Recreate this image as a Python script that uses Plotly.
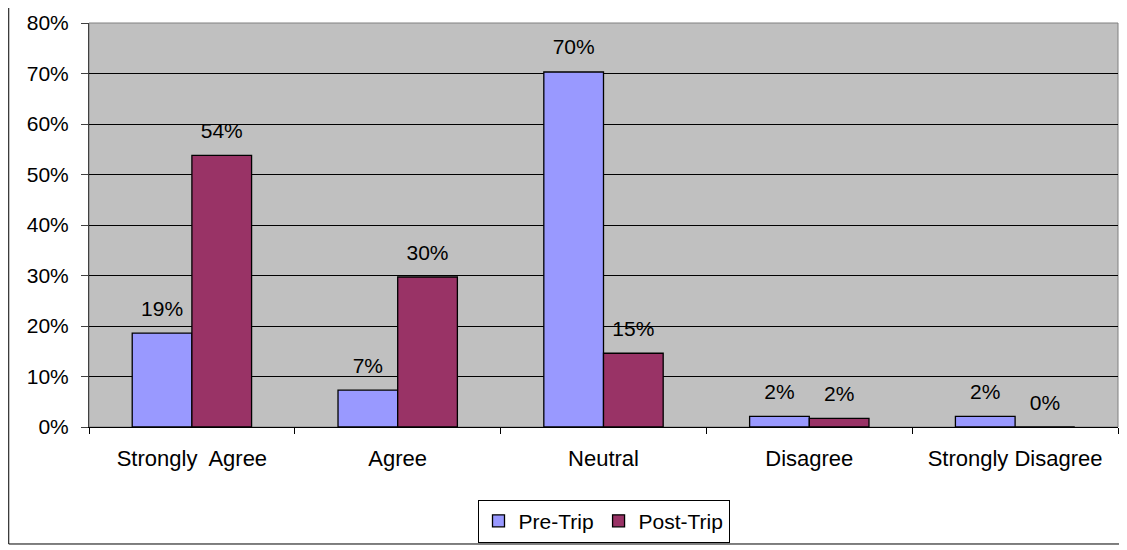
import plotly.graph_objects as go

categories = ["Strongly\u00a0 Agree", "Agree", "Neutral", "Disagree", "Strongly Disagree"]
pre_trip = [0.186, 0.073, 0.703, 0.021, 0.021]
post_trip = [0.538, 0.297, 0.146, 0.017, 0.0]

FONT = dict(family="Liberation Sans, Arial, sans-serif", size=21, color="black")

fig = go.Figure()
for name, vals, color in [("Pre-Trip", pre_trip, "#9999FF"), ("Post-Trip", post_trip, "#993366")]:
    fig.add_trace(go.Bar(name=name, x=categories, y=vals, offsetgroup=name,
                         marker=dict(color=color, line=dict(color="black", width=1.3))))
    # data labels, lifted a bit above the bar like Excel does
    fig.add_trace(go.Scatter(x=categories, y=vals, offsetgroup=name, mode="markers+text",
                             texttemplate="%{y:.0%}", textposition="top center",
                             marker=dict(size=18, opacity=0), textfont=FONT,
                             cliponaxis=False, showlegend=False, hoverinfo="skip"))

# page body has an 8px margin, so the figure is shrunk by that much
fig.update_layout(
    width=1119, height=542,
    margin=dict(l=81, r=9, t=15, b=123, autoexpand=False),
    paper_bgcolor="white", plot_bgcolor="#C0C0C0",
    font=FONT,
    barmode="group", bargap=0.42, bargroupgap=0,
    scattermode="group", scattergap=0.42,
    showlegend=True,
    legend=dict(orientation="h", x=0.5, xanchor="center", y=-0.18, yanchor="top",
                bordercolor="black", borderwidth=1, font=FONT,
                itemwidth=30, tracegroupgap=0),
    xaxis=dict(showgrid=False, showline=True, linecolor="black", linewidth=1,
               ticks="outside", tickson="boundaries", ticklen=6, tickcolor="black",
               ticklabelstandoff=12, automargin=False, tickfont=dict(size=22)),
    yaxis=dict(range=[0, 0.8], dtick=0.1, tickformat=".0%",
               showgrid=True, gridcolor="black", gridwidth=1,
               showline=True, linecolor="#404040", linewidth=1,
               ticks="outside", ticklen=7, tickcolor="#404040",
               ticklabelstandoff=8, zeroline=False, automargin=False),
    shapes=[
        dict(type="rect", xref="paper", yref="paper", x0=0, x1=1, y0=0, y1=1,
             line=dict(color="#808080", width=1), layer="below"),
        dict(type="rect", xref="paper", yref="paper", x0=-0.078, x1=1.012,
             y0=-0.2896, y1=1.07, line=dict(color="black", width=1)),
    ],
)

fig.write_html("out.html")
